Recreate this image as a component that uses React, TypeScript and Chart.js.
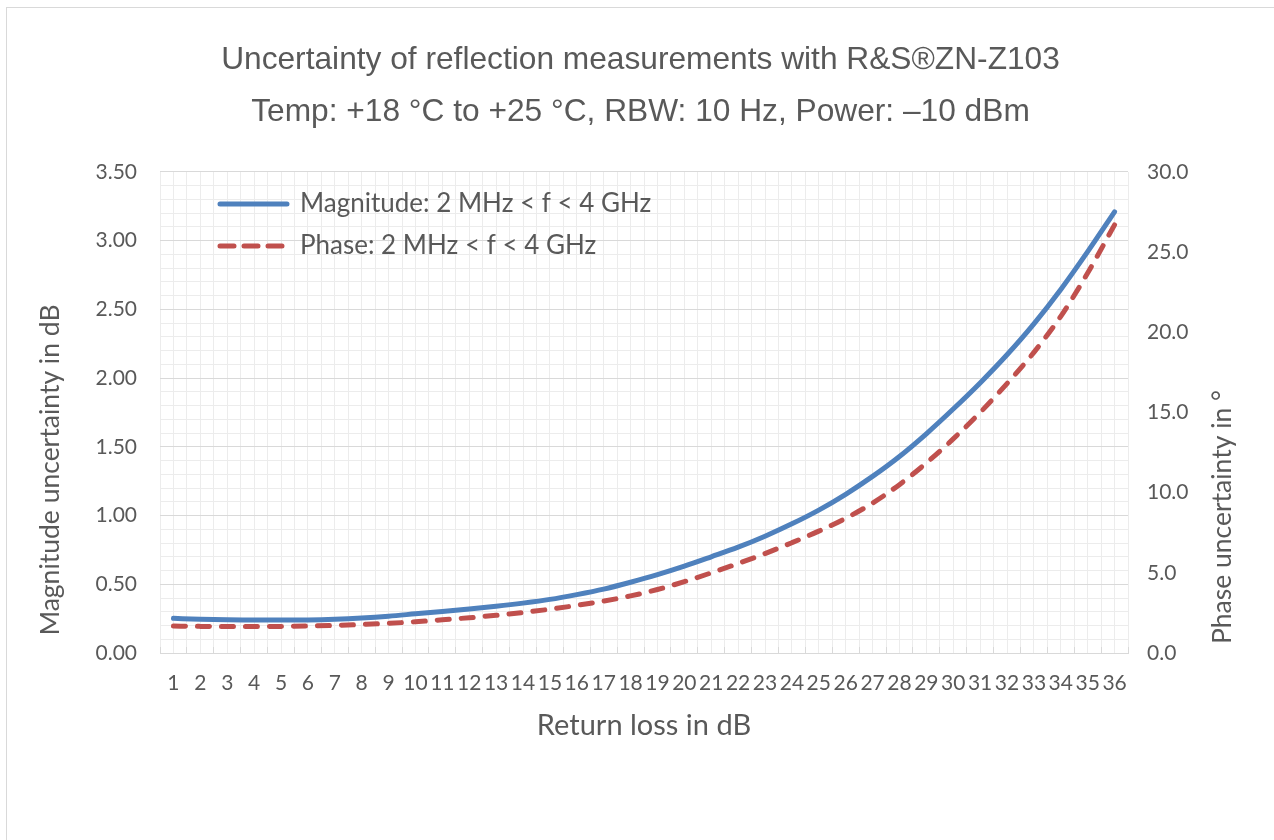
import React, { useEffect, useRef } from 'react';
import { Chart, registerables } from 'chart.js';

Chart.register(...registerables);

// ---- data ----
const returnLoss = [
  1, 2, 3, 4, 5, 6, 7, 8, 9, 10, 11, 12, 13, 14, 15, 16, 17, 18,
  19, 20, 21, 22, 23, 24, 25, 26, 27, 28, 29, 30, 31, 32, 33, 34, 35, 36,
];
const magnitude = [
  0.252, 0.246, 0.242, 0.240, 0.240, 0.241, 0.246, 0.255, 0.268, 0.285,
  0.302, 0.320, 0.340, 0.363, 0.390, 0.425, 0.465, 0.515, 0.570, 0.632,
  0.700, 0.770, 0.850, 0.940, 1.040, 1.155, 1.285, 1.430, 1.595, 1.775,
  1.965, 2.170, 2.395, 2.645, 2.920, 3.210,
];
const phase = [
  1.68, 1.66, 1.65, 1.65, 1.66, 1.68, 1.72, 1.78, 1.85, 1.95,
  2.07, 2.20, 2.35, 2.53, 2.73, 2.97, 3.24, 3.56, 3.96, 4.45,
  5.00, 5.58, 6.20, 6.88, 7.60, 8.40, 9.35, 10.50, 11.85, 13.35,
  15.00, 16.80, 18.75, 21.00, 23.70, 26.70,
];
const seriesNames = ['Magnitude: 2 MHz < f < 4 GHz', 'Phase: 2 MHz < f < 4 GHz'];
const titleLines = [
  'Uncertainty of reflection measurements with R&S®ZN-Z103',
  'Temp: +18 °C to +25 °C, RBW: 10 Hz, Power: –10 dBm',
];
const xTitle = 'Return loss in dB';
const yLeftTitle = 'Magnitude uncertainty in dB';
const yRightTitle = 'Phase uncertainty in °';
const leftAxis = { min: 0, max: 3.5, minorStep: 0.1, labelStep: 0.5 };
const rightAxis = { min: 0, max: 30, step: 5 };

// ---- style ----
const TEXT = '#595959';
const MAJOR = '#d9d9d9';
const MINOR = '#ececec';
const SANS = 'Lato, "Noto Sans", sans-serif';

const isMajor = (v: number) =>
  Math.abs(v / leftAxis.labelStep - Math.round(v / leftAxis.labelStep)) < 1e-6;

const legendInPlot = {
  id: 'legendInPlot',
  afterLayout(chart: any) {
    const lg = chart.legend;
    const ca = chart.chartArea;
    if (!lg || !ca) return;
    lg.left = ca.left + 44;
    lg.right = lg.left + lg.width;
    lg.top = ca.top + 3;
    lg.bottom = ca.bottom;
    lg.height = ca.bottom - lg.top;
  },
};

const verticalTitles = {
  id: 'verticalTitles',
  afterDraw(chart: any) {
    const ctx = chart.ctx;
    const ca = chart.chartArea;
    ctx.save();
    ctx.fillStyle = TEXT;
    ctx.font = '26.5px ' + SANS;
    ctx.textAlign = 'center';
    ctx.textBaseline = 'middle';
    const draw = (text: string, x: number, y: number) => {
      ctx.save();
      ctx.translate(x, y);
      ctx.rotate(-Math.PI / 2);
      ctx.fillText(text, 0, 0);
      ctx.restore();
    };
    draw(yLeftTitle, chart.scales.y.left + 43, ca.bottom - 183);
    draw(yRightTitle, chart.scales.y1.left + 94, ca.bottom - 136);
    ctx.restore();
  },
};

export default function App() {
  const ref = useRef<HTMLCanvasElement>(null);

  useEffect(() => {
    document.body.style.margin = '0';
    document.body.style.overflow = 'hidden';
    const tickFont = { family: SANS, size: 21 };
    const chart = new Chart(ref.current as HTMLCanvasElement, {
      type: 'line',
      data: {
        labels: returnLoss.map(String),
        datasets: [
          {
            label: seriesNames[0],
            data: magnitude,
            xAxisID: 'x',
            yAxisID: 'y',
            borderColor: '#4f81bd',
            backgroundColor: '#4f81bd',
            borderWidth: 5,
            borderCapStyle: 'round',
            borderJoinStyle: 'round',
            pointRadius: 0,
            cubicInterpolationMode: 'monotone',
            fill: false,
          },
          {
            label: seriesNames[1],
            data: phase,
            xAxisID: 'x',
            yAxisID: 'y1',
            borderColor: '#c0504d',
            backgroundColor: '#c0504d',
            borderWidth: 5,
            borderDash: [12, 12],
            borderCapStyle: 'round',
            borderJoinStyle: 'round',
            pointRadius: 0,
            cubicInterpolationMode: 'monotone',
            fill: false,
          },
        ],
      },
      options: {
        responsive: false,
        animation: false,
        layout: { padding: 0 },
        plugins: {
          title: {
            display: true,
            text: titleLines,
            color: TEXT,
            font: { family: '"Liberation Sans", Arial, sans-serif', size: 31.7, weight: 'normal', lineHeight: 1.64 },
            padding: { top: 26, bottom: 34 },
          },
          legend: {
            position: 'chartArea',
            align: 'start',
            labels: {
              boxWidth: 67,
              boxHeight: 0,
              padding: 16,
              color: TEXT,
              font: { family: SANS, size: 26 },
            },
          },
          tooltip: { enabled: false },
        },
        scales: {
          x: {
            type: 'category',
            position: 'bottom',
            offset: true,
            grid: {
              offset: true,
              color: MINOR,
              lineWidth: 1,
              drawTicks: true,
              tickLength: -6,
              tickColor: MAJOR,
              tickWidth: 1,
            },
            border: { display: true, color: MAJOR, width: 1 },
            ticks: { autoSkip: false, maxRotation: 0, minRotation: 0, padding: 24, color: TEXT, font: tickFont },
            title: {
              display: true,
              text: xTitle,
              color: TEXT,
              font: { family: SANS, size: 29 },
              padding: { top: 0, bottom: 97 },
            },
            afterFit: (s: any) => { s.height = 187; },
          },
          x2: {
            type: 'category',
            position: 'bottom',
            offset: true,
            grid: { offset: false, color: MINOR, lineWidth: 1, drawTicks: false },
            border: { display: false },
            ticks: { display: false },
            afterFit: (s: any) => { s.height = 0; },
          },
          y: {
            type: 'linear',
            position: 'left',
            min: leftAxis.min,
            max: leftAxis.max,
            ticks: {
              stepSize: leftAxis.minorStep,
              autoSkip: false,
              padding: 23,
              color: TEXT,
              font: tickFont,
              callback: (v: any) => (isMajor(Number(v)) ? Number(v).toFixed(2) : ''),
            },
            grid: {
              drawTicks: false,
              lineWidth: 1,
              color: (c: any) => (c.tick && isMajor(c.tick.value) ? MAJOR : MINOR),
            },
            border: { display: false },
            afterFit: (s: any) => { s.width = 153; },
          },
          y1: {
            type: 'linear',
            position: 'right',
            min: rightAxis.min,
            max: rightAxis.max,
            ticks: {
              stepSize: rightAxis.step,
              padding: 19,
              color: TEXT,
              font: tickFont,
              callback: (v: any) => Number(v).toFixed(1),
            },
            grid: { drawOnChartArea: false, drawTicks: false },
            border: { display: false },
            afterFit: (s: any) => { s.width = 146; },
          },
        },
      } as any,
      plugins: [legendInPlot, verticalTitles],
    });
    return () => chart.destroy();
  }, []);

  return (
    <div
      style={{
        position: 'absolute',
        left: 6,
        top: 7,
        width: 1268,
        height: 833,
        borderLeft: '1px solid #d9d9d9',
        borderTop: '1px solid #d9d9d9',
        boxSizing: 'border-box',
        background: '#fff',
      }}
    >
      <canvas ref={ref} width={1267} height={832} style={{ display: 'block' }} />
    </div>
  );
}
